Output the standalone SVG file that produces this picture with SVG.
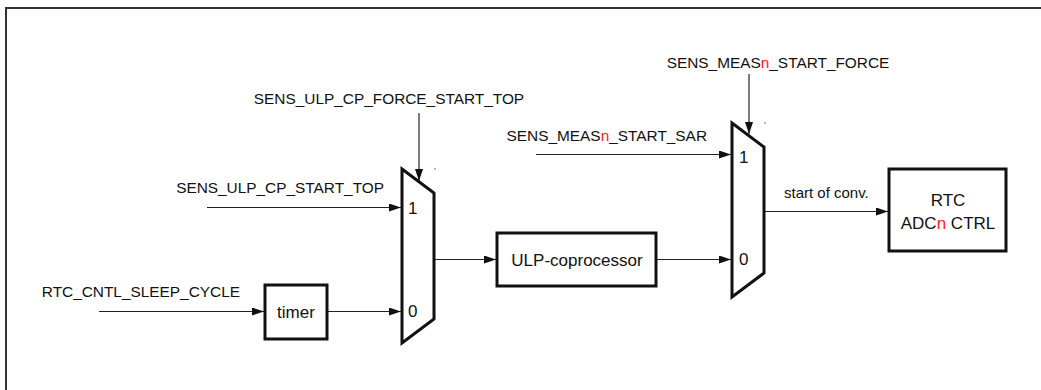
<svg xmlns="http://www.w3.org/2000/svg" width="1041" height="390" viewBox="0 0 1041 390">
<style>
text{font-family:"Liberation Sans",Arial,sans-serif;fill:#111}
.sig{font-size:15.4px}
.lbl{font-size:17px}
.blk{fill:#fff;stroke:#111;stroke-width:3;stroke-linejoin:miter}
.con{fill:none;stroke:#222;stroke-width:1.2}
.red{fill:#ff1a1a}
</style>
<defs>
<marker id="ah" markerUnits="userSpaceOnUse" markerWidth="13" markerHeight="9" refX="12" refY="4" orient="auto">
<path d="M0,0 L12,4 L0,8 z" fill="#111"/>
</marker>
</defs>
<rect width="1041" height="390" fill="#fff"/>
<path d="M6,390 V8 H1041" fill="none" stroke="#333" stroke-width="2"/>

<g id="connectors">
<line class="con" x1="419" y1="113" x2="419" y2="181" marker-end="url(#ah)"/>
<line class="con" x1="207" y1="207.5" x2="401" y2="207.5" marker-end="url(#ah)"/>
<line class="con" x1="99" y1="311.5" x2="264" y2="311.5" marker-end="url(#ah)"/>
<line class="con" x1="328" y1="311.5" x2="401" y2="311.5" marker-end="url(#ah)"/>
<line class="con" x1="435" y1="259.5" x2="496" y2="259.5" marker-end="url(#ah)"/>
<line class="con" x1="657" y1="259.5" x2="731" y2="259.5" marker-end="url(#ah)"/>
<line class="con" x1="536" y1="154.5" x2="731" y2="154.5" marker-end="url(#ah)"/>
<line class="con" x1="749" y1="74" x2="749" y2="134" marker-end="url(#ah)"/>
<line class="con" x1="765" y1="211.5" x2="888" y2="211.5" marker-end="url(#ah)"/>
<text class="sig" x="784" y="197.5" style="font-size:15px">start of conv.</text>
</g>

<g id="sig-force-top">
<text class="sig" x="389" y="103.5" text-anchor="middle">SENS_ULP_CP_FORCE_START_TOP</text>
</g>
<g id="sig-start-top">
<text class="sig" x="384" y="193" text-anchor="end">SENS_ULP_CP_START_TOP</text>
</g>
<g id="sig-sleep">
<text class="sig" x="240" y="297" text-anchor="end">RTC_CNTL_SLEEP_CYCLE</text>
</g>
<g id="sig-meas-force">
<text class="sig" x="778" y="68" text-anchor="middle">SENS_MEAS<tspan class="red">n</tspan>_START_FORCE</text>
</g>
<g id="sig-meas-sar">
<text class="sig" x="707" y="140.5" text-anchor="end">SENS_MEAS<tspan class="red">n</tspan>_START_SAR</text>
</g>

<g id="timer">
<rect class="blk" x="265" y="285" width="62" height="54"/>
<text class="lbl" x="296" y="318" text-anchor="middle">timer</text>
</g>

<g id="mux1">
<path class="blk" d="M402,169 L434,193 L434,319 L402,343 Z"/>
<text class="lbl" x="408" y="214">1</text>
<text class="lbl" x="408" y="317">0</text>
<rect x="434.5" y="168" width="1" height="2" fill="#777"/>
</g>

<g id="ulp">
<rect class="blk" x="497" y="233" width="159" height="53"/>
<text class="lbl" x="577" y="265.5" text-anchor="middle">ULP-coprocessor</text>
</g>

<g id="mux2">
<path class="blk" d="M732,123 L764,147 L764,273 L732,297 Z"/>
<text class="lbl" x="739" y="163">1</text>
<text class="lbl" x="739" y="265">0</text>
<rect x="764.5" y="122" width="1" height="2" fill="#777"/>
</g>

<g id="rtc-adc">
<rect class="blk" x="889" y="169" width="117" height="82"/>
<text class="lbl" x="948" y="206" text-anchor="middle">RTC</text>
<text class="lbl" x="948" y="228.5" text-anchor="middle">ADC<tspan class="red">n</tspan> CTRL</text>
</g>
</svg>
